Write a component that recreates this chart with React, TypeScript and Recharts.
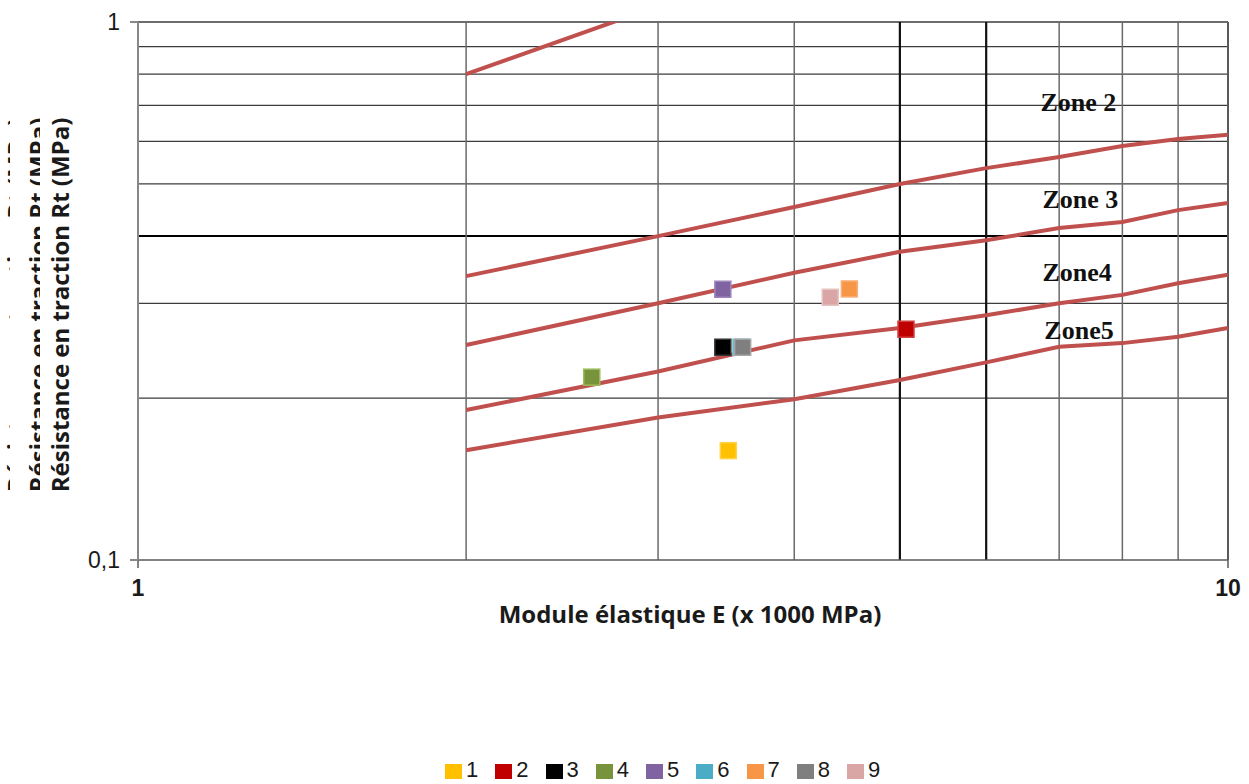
import {
  ComposedChart,
  Line,
  Scatter,
  XAxis,
  YAxis,
  ReferenceLine,
  ReferenceDot,
  Label,
} from "recharts";

// abscisses des courbes limites (module E, x 1000 MPa)
const LIMIT_E = [2, 3, 4, 5, 6, 7, 8, 9, 10];

// courbes limites entre zones (Rt en MPa)
const LIMIT_ZONE1 = [0.8, 1.07];
const LIMIT_ZONE2 = [0.337, 0.4, 0.453, 0.5, 0.535, 0.561, 0.588, 0.606, 0.617];
const LIMIT_ZONE3 = [0.251, 0.3, 0.342, 0.374, 0.393, 0.414, 0.425, 0.447, 0.461];
const LIMIT_ZONE4 = [0.19, 0.224, 0.256, 0.27, 0.285, 0.3, 0.311, 0.327, 0.339];
const LIMIT_ZONE5 = [0.16, 0.184, 0.199, 0.216, 0.233, 0.249, 0.253, 0.26, 0.27];

// échantillons
const SAMPLE_NAMES = ["1", "2", "3", "4", "5", "6", "7", "8", "9"];
const SAMPLE_E = [3.48, 5.065, 3.44, 2.608, 3.44, 3.574, 4.494, 3.587, 4.316];
const SAMPLE_RT = [0.1597, 0.2685, 0.2486, 0.2187, 0.3186, 0.2486, 0.319, 0.2486, 0.3079];
const SAMPLE_COLORS = ["#FFC000", "#C00000", "#000000", "#77933C", "#8064A2", "#4BACC6", "#F79646", "#7F7F7F", "#D9A6A5"];
const SAMPLE_BORDERS = ["#FFD24D", "#D04040", "#333333", "#9BBB59", "#9D87BC", "#7CC3D6", "#F9B07A", "#A5A5A5", "#E6C3C2"];

// libellés des zones
const ZONE_NAMES = ["Zone 2", "Zone 3", "Zone4", "Zone5"];
const ZONE_E = [7.29, 7.32, 7.27, 7.3];
const ZONE_RT = [0.7115, 0.4688, 0.343, 0.2677];

// grille
const GRID_E = [2, 3, 4, 7, 8, 9];
const GRID_E_BOLD = [5, 6];
const GRID_RT = [0.2, 0.3, 0.5, 0.6, 0.7, 0.8, 0.9];
const GRID_RT_BOLD = [0.4];

const X_TICKS = [1, 10];
const Y_TICKS = [0.1, 1];

const LINE_COLOR = "#C0504D";
const TITLE_FONT = "'Open Sans', 'DejaVu Sans', sans-serif";
const TICK_FONT = "'Liberation Sans', Arial, sans-serif";

const toPoints = (values: number[]) =>
  values.map((v, i) => ({ x: LIMIT_E[i], y: v }));

const limits = [LIMIT_ZONE1, LIMIT_ZONE2, LIMIT_ZONE3, LIMIT_ZONE4, LIMIT_ZONE5];

function SquareMarker(props: any) {
  const { cx, cy, fill, stroke } = props;
  return (
    <rect
      x={cx - 8}
      y={cy - 8}
      width={16}
      height={16}
      fill={fill}
      stroke={stroke}
      strokeWidth={1.5}
    />
  );
}

const yTitle = "Résistance en traction Rt (MPa)";

function YTitle(props: any) {
  const vb = props.viewBox || { x: 0, y: 22, width: 138, height: 538 };
  const bx = vb.x + 69;
  const cy = vb.y + vb.height / 2 + 14;
  const style = {
    fontFamily: TITLE_FONT,
    fontWeight: 700,
    fontSize: 24,
    fill: "#1a1a1a",
  } as const;
  return (
    <g>
      <defs>
        <clipPath id="ghost1">
          <rect x={0} y={0} width={40} height={784} />
        </clipPath>
        <clipPath id="ghost2">
          <rect x={0} y={0} width={10} height={784} />
        </clipPath>
      </defs>
      <text
        x={bx}
        y={cy}
        transform={`rotate(-90 ${bx} ${cy})`}
        textAnchor="middle"
        style={style}
      >
        {yTitle}
      </text>
      <g clipPath="url(#ghost1)">
        <text
          x={bx - 22}
          y={cy}
          transform={`rotate(-90 ${bx - 22} ${cy})`}
          textAnchor="middle"
          style={style}
        >
          {yTitle}
        </text>
      </g>
      <g clipPath="url(#ghost2)">
        <text
          x={bx - 44}
          y={cy}
          transform={`rotate(-90 ${bx - 44} ${cy})`}
          textAnchor="middle"
          style={style}
        >
          {yTitle}
        </text>
      </g>
    </g>
  );
}

function Legend() {
  return (
    <div
      style={{
        position: "absolute",
        left: 445,
        top: 758,
        display: "flex",
        alignItems: "center",
        fontFamily: TICK_FONT,
        fontSize: 22,
        color: "#1a1a1a",
        lineHeight: "23px",
      }}
    >
      {SAMPLE_NAMES.map((name, i) => (
        <div
          key={name}
          style={{ display: "flex", alignItems: "center", marginRight: 17 }}
        >
          <span
            style={{
              display: "inline-block",
              width: 17,
              height: 15,
              background: SAMPLE_COLORS[i],
              marginRight: 4,
              marginTop: 3,
            }}
          />
          <span>{name}</span>
        </div>
      ))}
    </div>
  );
}

export default function App() {
  return (
    <div
      style={{
        position: "absolute",
        left: 0,
        top: 0,
        width: 1249,
        height: 784,
        background: "#ffffff",
      }}
    >
      <ComposedChart
        width={1249}
        height={784}
        margin={{ top: 22, right: 21, bottom: 164, left: 0 }}
      >
        <XAxis
          dataKey="x"
          type="number"
          scale="log"
          domain={[1, 10]}
          allowDataOverflow
          ticks={X_TICKS}
          height={60}
          tickSize={8}
          tickMargin={12}
          axisLine={{ stroke: "#5a5a5a", strokeWidth: 1.5 }}
          tickLine={{ stroke: "#5a5a5a", strokeWidth: 1.5 }}
          tick={{
            fontFamily: TICK_FONT,
            fontSize: 23,
            fontWeight: 700,
            fill: "#1a1a1a",
          }}
        >
          <Label
            value="Module élastique E (x 1000 MPa)"
            position="insideBottom"
            offset={-3}
            dx={7}
            style={{
              fontFamily: TITLE_FONT,
              fontWeight: 700,
              fontSize: 24,
              fill: "#1a1a1a",
            }}
          />
        </XAxis>
        <YAxis
          dataKey="y"
          type="number"
          scale="log"
          domain={[0.1, 1]}
          allowDataOverflow
          ticks={Y_TICKS}
          width={138}
          tickSize={8}
          tickMargin={10}
          tickFormatter={(v: number) => String(v).replace(".", ",")}
          axisLine={{ stroke: "#888888", strokeWidth: 2 }}
          tickLine={{ stroke: "#888888", strokeWidth: 2 }}
          tick={{ fontFamily: TICK_FONT, fontSize: 23, fill: "#1a1a1a" }}
        >
          <Label content={<YTitle />} position="center" />
        </YAxis>

        {GRID_RT.map((v) => (
          <ReferenceLine key={`h${v}`} y={v} stroke="#3c3c3c" strokeWidth={1.2} />
        ))}
        {GRID_RT_BOLD.map((v) => (
          <ReferenceLine key={`hb${v}`} y={v} stroke="#000000" strokeWidth={2} />
        ))}
        <ReferenceLine y={1} stroke="#3c3c3c" strokeWidth={1.5} />
        {GRID_E.map((v) => (
          <ReferenceLine key={`v${v}`} x={v} stroke="#6a6a6a" strokeWidth={1.5} />
        ))}
        {GRID_E_BOLD.map((v) => (
          <ReferenceLine key={`vb${v}`} x={v} stroke="#111111" strokeWidth={2.2} />
        ))}
        <ReferenceLine x={10} stroke="#5a5a5a" strokeWidth={2} />

        {limits.map((values, i) => (
          <Line
            key={`limit${i}`}
            data={toPoints(values)}
            dataKey="y"
            stroke={LINE_COLOR}
            strokeWidth={4}
            dot={false}
            activeDot={false}
            isAnimationActive={false}
            legendType="none"
          />
        ))}

        {SAMPLE_NAMES.map((name, i) => (
          <Scatter
            key={`s${name}`}
            name={name}
            data={[{ x: SAMPLE_E[i], y: SAMPLE_RT[i] }]}
            fill={SAMPLE_COLORS[i]}
            stroke={SAMPLE_BORDERS[i]}
            shape={SquareMarker}
            isAnimationActive={false}
          />
        ))}

        {ZONE_NAMES.map((name, i) => (
          <ReferenceDot
            key={name}
            x={ZONE_E[i]}
            y={ZONE_RT[i]}
            r={0}
            fill="none"
            stroke="none"
            label={{
              value: name,
              position: "center",
              style: {
                fontFamily: "'Liberation Serif', 'DejaVu Serif', serif",
                fontWeight: 700,
                fontSize: 26,
                fill: "#111111",
              },
            }}
          />
        ))}
      </ComposedChart>
      <Legend />
    </div>
  );
}
